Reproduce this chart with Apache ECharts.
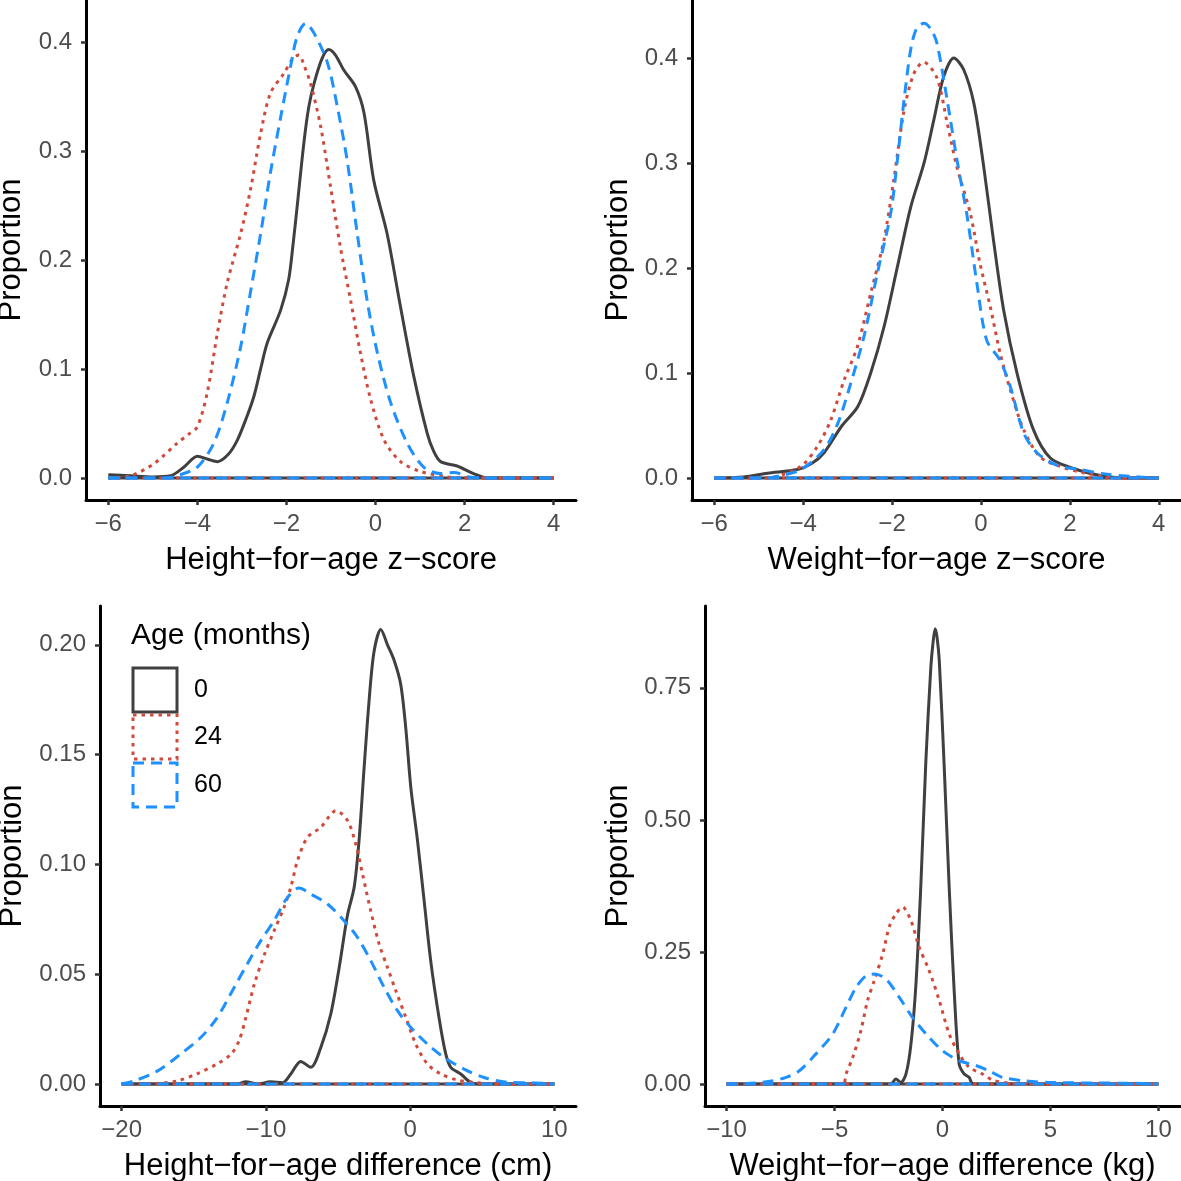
<!DOCTYPE html>
<html>
<head>
<meta charset="utf-8">
<script src="https://cdn.jsdelivr.net/npm/echarts@6/dist/echarts.min.js"></script>
<style>
  html, body { margin: 0; padding: 0; background: #fff; }
  #chart { width: 1181px; height: 1181px; }
</style>
</head>
<body>
<div id="chart"></div>
<script>
// 数据：每条密度曲线为 [x, y] 点列
const ageGroups = ['0', '24', '60'];

// Height-for-age z-score
const haz0 = [[-6,0.003],[-5.5,0.002],[-5,0.001],[-4.6,0.002],[-4.3,0.01],[-4.0,0.020],[-3.75,0.017],[-3.55,0.015],[-3.3,0.022],[-3.1,0.035],[-2.9,0.055],[-2.73,0.075],[-2.58,0.1],[-2.43,0.124],[-2.13,0.154],[-1.95,0.182],[-1.85,0.215],[-1.76,0.249],[-1.61,0.307],[-1.5,0.340],[-1.38,0.362],[-1.2,0.385],[-1.05,0.393],[-0.9,0.388],[-0.71,0.374],[-0.45,0.359],[-0.26,0.335],[-0.04,0.273],[0.26,0.224],[0.56,0.157],[0.86,0.093],[1.16,0.041],[1.3,0.025],[1.46,0.015],[1.83,0.011],[2.2,0.004],[2.5,0],[4,0]];
const haz24 = [[-6,0],[-5.5,0.002],[-4.98,0.013],[-4.45,0.032],[-4.2,0.040],[-4.0,0.047],[-3.78,0.078],[-3.55,0.133],[-3.33,0.179],[-3.03,0.224],[-2.81,0.264],[-2.58,0.316],[-2.36,0.353],[-2.06,0.371],[-1.85,0.385],[-1.72,0.388],[-1.6,0.378],[-1.46,0.362],[-1.23,0.322],[-1.01,0.267],[-0.79,0.212],[-0.56,0.163],[-0.34,0.115],[-0.11,0.072],[0.19,0.035],[0.56,0.015],[1.01,0.006],[1.6,0.001],[2,0],[4,0]];
const haz60 = [[-6,0],[-4.7,0],[-4.38,0.003],[-4.0,0.010],[-3.63,0.032],[-3.33,0.069],[-3.03,0.120],[-2.81,0.170],[-2.58,0.224],[-2.36,0.280],[-2.13,0.331],[-1.91,0.377],[-1.76,0.405],[-1.57,0.417],[-1.38,0.408],[-1.08,0.381],[-0.86,0.341],[-0.64,0.292],[-0.41,0.224],[-0.19,0.163],[0.04,0.115],[0.34,0.069],[0.71,0.032],[1.08,0.010],[1.46,0.004],[1.76,0.005],[2.1,0.001],[2.4,0],[4,0]];

// Weight-for-age z-score
const waz0 = [[-6,0],[-5.33,0.001],[-4.8,0.0045],[-4.13,0.008],[-3.8,0.014],[-3.53,0.024],[-3.14,0.049],[-2.77,0.068],[-2.48,0.100],[-2.18,0.144],[-1.88,0.201],[-1.58,0.258],[-1.28,0.300],[-1.06,0.341],[-0.84,0.382],[-0.61,0.400],[-0.39,0.389],[-0.16,0.357],[0.06,0.297],[0.28,0.227],[0.51,0.160],[0.81,0.100],[1.18,0.046],[1.56,0.019],[2.08,0.009],[2.6,0.003],[2.97,0.0006],[3.3,0],[4,0]];
const waz24 = [[-6,0],[-5,0],[-4.65,0.001],[-4.05,0.011],[-3.68,0.030],[-3.38,0.055],[-3.08,0.093],[-2.78,0.125],[-2.48,0.176],[-2.18,0.227],[-1.96,0.284],[-1.73,0.350],[-1.51,0.385],[-1.29,0.396],[-0.99,0.381],[-0.76,0.338],[-0.54,0.296],[-0.24,0.252],[-0.02,0.204],[0.21,0.163],[0.43,0.119],[0.66,0.084],[0.96,0.046],[1.33,0.020],[1.78,0.011],[2.3,0.005],[2.9,0.001],[3.3,0],[4,0]];
const waz60 = [[-6,0],[-5,0],[-4.65,0.001],[-4.05,0.008],[-3.53,0.027],[-3.22,0.052],[-2.93,0.090],[-2.63,0.135],[-2.33,0.195],[-2.03,0.252],[-1.88,0.303],[-1.73,0.360],[-1.58,0.408],[-1.45,0.428],[-1.28,0.433],[-1.12,0.427],[-0.99,0.414],[-0.76,0.360],[-0.54,0.303],[-0.31,0.249],[-0.09,0.185],[0.13,0.131],[0.43,0.112],[0.66,0.087],[0.96,0.043],[1.26,0.024],[1.71,0.012],[2.23,0.008],[2.75,0.004],[3.35,0.0015],[4,0]];

// Height-for-age difference (cm)
const hd0 = [[-20,0],[-12,0],[-11.4,0.001],[-10.5,0],[-9.7,0.001],[-8.85,0.0006],[-8.27,0.0046],[-7.58,0.0103],[-6.89,0.0076],[-6.19,0.0167],[-5.5,0.0319],[-4.92,0.053],[-4.34,0.077],[-3.88,0.0896],[-3.54,0.111],[-3.19,0.144],[-2.84,0.175],[-2.5,0.197],[-2.03,0.207],[-1.57,0.200],[-1.11,0.193],[-0.65,0.182],[-0.3,0.162],[0.05,0.135],[0.51,0.111],[0.97,0.0835],[1.43,0.056],[2.01,0.030],[2.47,0.0137],[2.82,0.0076],[3.51,0.0046],[4.2,0.0008],[5,0],[10,0]];
const hd24 = [[-20,0],[-17.5,0.0003],[-16.1,0.0015],[-14.7,0.0049],[-13.4,0.0091],[-12.4,0.0137],[-11.86,0.0197],[-11.4,0.030],[-10.8,0.0455],[-10.1,0.059],[-9.43,0.0698],[-8.74,0.0805],[-8.27,0.0896],[-7.81,0.1017],[-7.12,0.1123],[-6.19,0.1169],[-5.6,0.122],[-5.15,0.1245],[-4.34,0.120],[-3.77,0.1093],[-3.30,0.0956],[-2.73,0.0789],[-2.15,0.0638],[-1.57,0.0531],[-0.99,0.0425],[-0.3,0.0304],[0.39,0.0182],[1.2,0.0091],[2.13,0.0046],[3.28,0.0018],[5.13,0.0003],[6,0],[10,0]];
const hd60 = [[-20,0],[-19.1,0.0015],[-17.5,0.006],[-15.9,0.0137],[-14.5,0.0213],[-13.4,0.030],[-12.2,0.044],[-11.3,0.0546],[-10.35,0.0653],[-9.43,0.0744],[-8.5,0.085],[-7.7,0.0893],[-6.89,0.0865],[-5.73,0.082],[-4.58,0.0744],[-3.65,0.0668],[-2.73,0.0562],[-1.8,0.044],[-0.88,0.0334],[0.05,0.0258],[1.2,0.0182],[2.36,0.0121],[3.74,0.0068],[5.13,0.003],[6.75,0.0008],[8.6,0.0005],[10,0]];

// Weight-for-age difference (kg)
const wd0 = [[-10,0],[-2.4,0],[-2.16,0.0095],[-1.93,0.003],[-1.69,0.019],[-1.46,0.076],[-1.23,0.189],[-1.0,0.379],[-0.77,0.612],[-0.54,0.789],[-0.44,0.835],[-0.34,0.862],[-0.25,0.845],[-0.15,0.802],[0.08,0.600],[0.31,0.372],[0.54,0.177],[0.77,0.038],[1.0,0.019],[1.23,0.0126],[1.42,0],[10,0]];
const wd24 = [[-10,0],[-4.62,0],[-4.47,0.019],[-4.16,0.050],[-3.78,0.101],[-3.47,0.158],[-3.16,0.196],[-2.77,0.246],[-2.47,0.297],[-2.16,0.322],[-1.85,0.335],[-1.46,0.309],[-1.08,0.259],[-0.62,0.215],[-0.15,0.158],[0.31,0.095],[0.77,0.057],[1.23,0.032],[1.85,0.019],[2.31,0.0076],[3.08,0.0013],[3.5,0],[10,0]];
const wd60 = [[-10,0],[-8.94,0.0013],[-8.0,0.005],[-7.24,0.0126],[-6.63,0.025],[-5.86,0.057],[-5.08,0.095],[-4.47,0.145],[-4.0,0.183],[-3.54,0.205],[-3.16,0.208],[-2.62,0.199],[-2.0,0.164],[-1.39,0.126],[-0.77,0.095],[0,0.063],[0.77,0.044],[1.54,0.035],[2.16,0.025],[2.77,0.0126],[3.7,0.0063],[4.93,0.003],[6.47,0.002],[8.78,0.0013],[10,0]];

// 刻度
const xTicksZ = [-6, -4, -2, 0, 2, 4];
const yTicksZ = [0, 0.1, 0.2, 0.3, 0.4];
const xTicksHd = [-20, -10, 0, 10];
const yTicksHd = [0, 0.05, 0.10, 0.15, 0.20];
const xTicksWd = [-10, -5, 0, 5, 10];
const yTicksWd = [0, 0.25, 0.50, 0.75];

const titles = ['Height\u2212for\u2212age z\u2212score', 'Weight\u2212for\u2212age z\u2212score',
                'Height\u2212for\u2212age difference (cm)', 'Weight\u2212for\u2212age difference (kg)'];

/**样式 */
const FONT = '"Liberation Sans", Arial, Helvetica, sans-serif';
const lineStyles = [
  { color: '#404040', type: 'solid' },
  { color: '#D0493A', type: [3.5, 5] },
  { color: '#1E90FF', type: [11, 7] }
];

// 每个面板：位置 + 坐标范围
const panels = [
  { curves: [haz0, haz24, haz60], xTicks: xTicksZ, yTicks: yTicksZ, yDec: 1,
    left: 86, top: 0, width: 490, height: 500, xMin: -6.5, xMax: 4.5, yMin: -0.0202, yMax: 0.4385, yGap: 59 },
  { curves: [waz0, waz24, waz60], xTicks: xTicksZ, yTicks: yTicksZ, yDec: 1,
    left: 692, top: 0, width: 489, height: 500, xMin: -6.5, xMax: 4.5, yMin: -0.021, yMax: 0.4552, yGap: 58 },
  { curves: [hd0, hd24, hd60], xTicks: xTicksHd, yTicks: yTicksHd, yDec: 2,
    left: 100, top: 606, width: 476, height: 500, xMin: -21.5, xMax: 11.5, yMin: -0.01, yMax: 0.2177, yGap: 72 },
  { curves: [wd0, wd24, wd60], xTicks: xTicksWd, yTicks: yTicksWd, yDec: 2,
    left: 705, top: 606, width: 475, height: 500, xMin: -11, xMax: 11, yMin: -0.0417, yMax: 0.905, yGap: 71 }
];

function fmtX(v) {
  return v < 0 ? '\u2212' + Math.abs(v) : String(v);
}

let grids = [], xAxes = [], yAxes = [], series = [];
panels.forEach((p, i) => {
  grids.push({ left: p.left, top: p.top, width: p.width, height: p.height, containLabel: false, outerBoundsMode: 'none' });
  xAxes.push({
    type: 'value', gridIndex: i, min: p.xMin, max: p.xMax,
    name: titles[i], nameLocation: 'middle', nameGap: 45,
    nameTextStyle: { fontSize: 31, color: '#000', fontFamily: FONT },
    axisLine: { show: true, onZero: false, lineStyle: { color: '#000', width: 3 } },
    axisTick: { show: true, length: 5, customValues: p.xTicks, lineStyle: { color: '#333', width: 2.5 } },
    axisLabel: { customValues: p.xTicks, margin: 12, fontSize: 24, color: '#4D4D4D', fontFamily: FONT, formatter: fmtX },
    splitLine: { show: false }
  });
  yAxes.push({
    type: 'value', gridIndex: i, min: p.yMin, max: p.yMax,
    name: 'Proportion', nameLocation: 'middle', nameGap: p.yGap,
    nameTextStyle: { fontSize: 31, color: '#000', fontFamily: FONT },
    axisLine: { show: true, onZero: false, lineStyle: { color: '#000', width: 3 } },
    axisTick: { show: true, length: 5, customValues: p.yTicks, lineStyle: { color: '#333', width: 2.5 } },
    axisLabel: { customValues: p.yTicks, margin: 14, fontSize: 24, color: '#4D4D4D', fontFamily: FONT,
      formatter: (v) => v.toFixed(p.yDec) },
    splitLine: { show: false }
  });
  p.curves.forEach((c, k) => {
    const ls = { color: lineStyles[k].color, type: lineStyles[k].type, width: 3, cap: 'butt' };
    // 密度曲线
    series.push({
      type: 'line', name: ageGroups[k], xAxisIndex: i, yAxisIndex: i,
      data: c, showSymbol: false, smooth: 0.3, lineStyle: ls, silent: true, z: 2 + k
    });
    // 底边（geom_density 的轮廓闭合线）
    series.push({
      type: 'line', name: ageGroups[k], xAxisIndex: i, yAxisIndex: i,
      data: [[c[0][0], 0], [c[c.length - 1][0], 0]], showSymbol: false, lineStyle: ls, silent: true, z: 2 + k
    });
  });
});

// 图例（左下面板内）
const legendItems = [];
legendItems.push({ type: 'text', left: 131, top: 621, style: { text: 'Age (months)', fill: '#000', font: '30px ' + FONT } });
const keyTops = [668, 715, 763];
ageGroups.forEach((g, k) => {
  const ls = lineStyles[k];
  legendItems.push({
    type: 'rect', shape: { x: 133, y: keyTops[k], width: 44, height: 44 },
    style: { fill: 'none', stroke: ls.color, lineWidth: 3, lineDash: ls.type === 'solid' ? null : ls.type }
  });
  legendItems.push({ type: 'text', left: 194, top: keyTops[k] + 10, style: { text: g, fill: '#000', font: '25px ' + FONT } });
});

const myChart = echarts.init(document.getElementById('chart'), null, { renderer: 'canvas' });
myChart.setOption({
  backgroundColor: '#fff',
  animation: false,
  textStyle: { fontFamily: FONT },
  grid: grids,
  xAxis: xAxes,
  yAxis: yAxes,
  series: series,
  graphic: legendItems
});
</script>
</body>
</html>
